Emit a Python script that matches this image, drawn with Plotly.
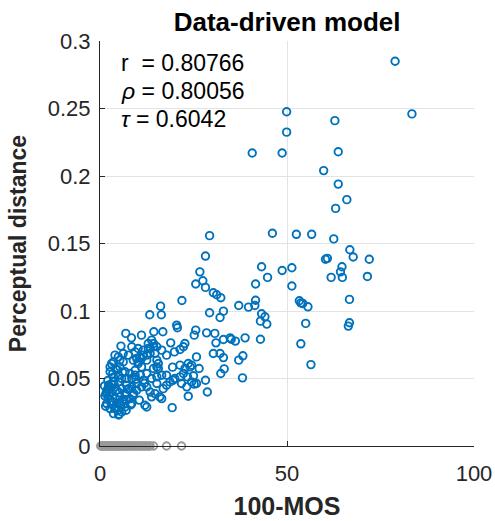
import plotly.graph_objects as go

# Blue points: 100-MOS vs perceptual distance
mos_blue = [
    78.9, 83.4, 49.9, 49.9, 62.8, 40.7, 48.7, 63.7, 59.8, 63.7, 66.0, 63.0,
    46.1, 52.5, 56.6, 62.5, 29.3, 66.8, 67.7, 60.3, 60.8, 72.0, 64.7, 64.3,
    61.8, 64.8, 71.5, 51.3, 48.7, 51.3, 43.2, 44.8, 41.6, 28.2, 26.7, 27.5,
    25.6, 28.2, 30.3, 31.2, 32.3, 29.3, 33.0, 32.1, 21.9, 37.1, 39.7, 41.6,
    41.4, 43.2, 44.1, 42.9, 44.6, 53.3, 53.7, 54.2, 55.6, 55.0, 66.7, 66.7,
    66.4, 53.7, 56.4, 42.9, 38.8, 37.1, 38.2, 38.1, 36.2, 34.8, 35.1, 33.0,
    30.7, 31.0, 28.5, 25.6, 25.2, 30.3, 32.1, 33.0, 33.2, 32.3, 28.2, 28.7,
    23.6, 19.3, 25.8, 26.5, 24.5, 25.0, 25.2, 23.4, 22.7, 22.3, 20.5, 20.7,
    18.9, 19.9, 21.4, 17.8, 19.4, 21.4, 19.6, 17.8, 16.9, 16.4, 16.2, 13.3,
    14.4, 16.8, 11.1, 8.4, 6.9, 5.6, 16.5, 14.3, 13.4, 12.5, 15.2, 15.6,
    15.2, 14.3, 10.2, 10.7,
    3.1, 4.2, 5.3, 6.2, 2.7, 3.6, 4.9, 6.7, 8.0, 9.4, 10.2, 11.1, 12.5, 13.4,
    14.3, 11.6, 12.9, 11.1, 12.5, 13.8, 11.6, 9.8, 8.5, 7.1, 5.8, 4.5, 2.7,
    1.6, 2.2, 1.8, 2.7, 3.6, 4.9, 5.8, 6.7, 4.5, 4.0, 5.3, 6.7, 8.0, 8.9,
    9.8, 11.1, 12.5, 13.4, 13.8, 12.0, 12.5, 14.7, 16.0, 16.5, 15.2, 16.5,
    15.6, 14.7, 15.2, 7.1, 8.5, 3.1, 1.8, 3.6, 4.9, 5.8, 7.1, 8.5, 9.4, 6.2,
    7.6, 8.9, 5.3, 4.0, 4.9, 3.6, 2.7, 17.8, 18.7, 20.0, 21.4, 22.3, 22.7,
    23.6, 24.1, 21.8, 24.5, 23.2, 25.8, 15.2, 13.8, 12.9, 11.6, 9.8, 8.5,
    9.4, 10.2, 2.3, 3.3, 4.4, 6.0, 7.4, 9.0, 10.5, 1.3, 2.0, 3.0, 5.0, 6.5,
    1.2, 2.5, 3.8, 5.2, 6.4, 7.8, 1.5, 2.9, 4.1, 5.5, 7.0, 8.2, 2.1, 3.4,
    4.7, 6.1, 9.6, 10.8, 11.9, 3.9, 5.1, 2.4,
]
dist_blue = [
    0.285, 0.246, 0.2476, 0.2325, 0.241, 0.217, 0.217, 0.218, 0.204, 0.194, 0.1825, 0.176,
    0.1576, 0.1568, 0.1568, 0.1534, 0.1558, 0.1454, 0.140, 0.1383, 0.139, 0.1383, 0.1328, 0.129,
    0.1249, 0.1249, 0.1256, 0.132, 0.130, 0.1185, 0.1328, 0.1249, 0.120, 0.1407, 0.129, 0.1224,
    0.120, 0.1175, 0.1135, 0.112, 0.1098, 0.0987, 0.0999, 0.0952, 0.1078, 0.1041, 0.1029, 0.108,
    0.1041, 0.098, 0.0957, 0.0925, 0.0903, 0.1076, 0.106, 0.1056, 0.1031, 0.0908, 0.1086, 0.0913,
    0.0888, 0.0757, 0.0603, 0.0791, 0.0801, 0.0636, 0.0668, 0.0505, 0.0777, 0.0801, 0.0791, 0.0789,
    0.0834, 0.0764, 0.0838, 0.0858, 0.0821, 0.0685, 0.0685, 0.0655, 0.0571, 0.0537, 0.0487, 0.040,
    0.0369, 0.0284, 0.066, 0.0574, 0.0599, 0.052, 0.0458, 0.0512, 0.0759, 0.0735, 0.0895, 0.0876,
    0.0764, 0.0697, 0.0715, 0.0673, 0.0584, 0.0599, 0.0487, 0.045, 0.0425, 0.0972, 0.1036, 0.0972,
    0.0846, 0.0846, 0.0821, 0.0801, 0.0834, 0.074, 0.0710, 0.0759, 0.0722, 0.0673, 0.0636, 0.0574,
    0.0512, 0.0574, 0.0623, 0.066,
    0.061, 0.057, 0.0636, 0.0623, 0.055, 0.051, 0.0524, 0.055, 0.0537, 0.0561, 0.061, 0.0648, 0.0636, 0.0685,
    0.0735, 0.071, 0.0759, 0.0586, 0.0537, 0.050, 0.0487, 0.0463, 0.0438, 0.045, 0.0425, 0.0413, 0.0438,
    0.0388, 0.0351, 0.0314, 0.0277, 0.024, 0.0265, 0.0252, 0.0289, 0.0314, 0.0351, 0.0364, 0.0388, 0.0351, 0.0376,
    0.0413, 0.0438, 0.0438, 0.040, 0.0364, 0.0302, 0.0289, 0.0388, 0.0364, 0.0351, 0.0463, 0.0524,
    0.0611, 0.0685, 0.0586, 0.0339, 0.0314, 0.040, 0.040, 0.0475, 0.0475, 0.050, 0.050, 0.050, 0.0524, 0.0685,
    0.0673, 0.0636, 0.0586, 0.0673, 0.066, 0.0623, 0.0586, 0.0524, 0.0475, 0.050, 0.0512, 0.0537, 0.0574,
    0.0611, 0.0586, 0.0463, 0.0475, 0.0438, 0.0463, 0.0735, 0.0784, 0.0722, 0.0673, 0.0648, 0.0735,
    0.0697, 0.0722, 0.045, 0.033, 0.029, 0.033, 0.042, 0.039, 0.034, 0.037, 0.042, 0.046, 0.023, 0.031,
    0.0445, 0.0395, 0.0455, 0.0395, 0.0345, 0.0425, 0.0295, 0.0325, 0.0275, 0.0305, 0.0265, 0.0305, 0.0485, 0.0535,
    0.0565, 0.0545, 0.0495, 0.0525, 0.0465, 0.0285, 0.0235, 0.0375,
]

# Gray points: items with zero perceptual distance
mos_gray = [0.2, 0.5, 0.8, 1.1, 1.4, 1.7, 2.0, 2.3, 2.6, 3.0, 3.3, 3.6, 3.9,
            4.3, 4.7, 5.0, 5.4, 5.8, 6.2, 6.6, 7.0, 7.4, 7.8, 8.2, 8.7, 9.1,
            9.6, 10.0, 10.5, 11.0, 11.5, 12.0, 12.5, 13.0, 13.4,
            14.3, 17.8, 21.8]
dist_gray = [0.0] * len(mos_gray)

x_ticks = [0, 50, 100]
y_ticks = [0, 0.05, 0.1, 0.15, 0.2, 0.25, 0.3]
y_tick_text = ["0", "0.05", "0.1", "0.15", "0.2", "0.25", "0.3"]

stats_lines = ["r  = 0.80766", "<i>ρ</i> = 0.80056", "<i>τ</i> = 0.6042"]
stats_y = [0.2837, 0.2633, 0.2422]

BLUE = "#0072BD"
GRAY = "#999999"
FONT = "Liberation Sans, Arial, Helvetica, sans-serif"

fig = go.Figure()
fig.add_trace(go.Scatter(
    x=mos_gray, y=dist_gray, mode="markers", cliponaxis=False,
    marker=dict(symbol="circle-open", size=7.5, color=GRAY, line=dict(width=1.9, color=GRAY)),
    showlegend=False, hoverinfo="skip",
))
fig.add_trace(go.Scatter(
    x=mos_blue, y=dist_blue, mode="markers", cliponaxis=False,
    marker=dict(symbol="circle-open", size=7.5, color=BLUE, line=dict(width=1.9, color=BLUE)),
    showlegend=False,
))

for line, yv in zip(stats_lines, stats_y):
    fig.add_annotation(
        x=0.052, xref="paper", y=yv, yref="y",
        text=line, showarrow=False, xanchor="left", yanchor="middle",
        font=dict(family=FONT, size=23, color="black"),
    )

axis_common = dict(
    showgrid=True, gridcolor="#e3e3e3", gridwidth=1,
    zeroline=False, showline=True, linecolor="#262626", linewidth=1,
    ticks="inside", ticklen=5, tickcolor="#262626", automargin=False,
    tickfont=dict(family=FONT, size=22, color="#262626"),
)

fig.update_layout(
    width=495, height=521,
    margin=dict(l=100, r=21, t=41, b=75),
    paper_bgcolor="white", plot_bgcolor="white",
    title=dict(text="<b>Data-driven model</b>", x=0.58, xanchor="center", y=0.958, yanchor="middle",
               font=dict(family=FONT, size=26, color="black")),
    xaxis=dict(range=[0, 100], tickvals=x_ticks, ticktext=[str(v) for v in x_ticks],
               title=dict(text="<b>100-MOS</b>", font=dict(family=FONT, size=25, color="#262626"), standoff=12),
               ticklabelstandoff=8, **axis_common),
    yaxis=dict(range=[0, 0.3], tickvals=y_ticks, ticktext=y_tick_text,
               title=dict(text="<b>Perceptual distance</b>", font=dict(family=FONT, size=23, color="#262626"), standoff=14),
               ticklabelstandoff=4, **axis_common),
)

fig.write_html("out.html")
